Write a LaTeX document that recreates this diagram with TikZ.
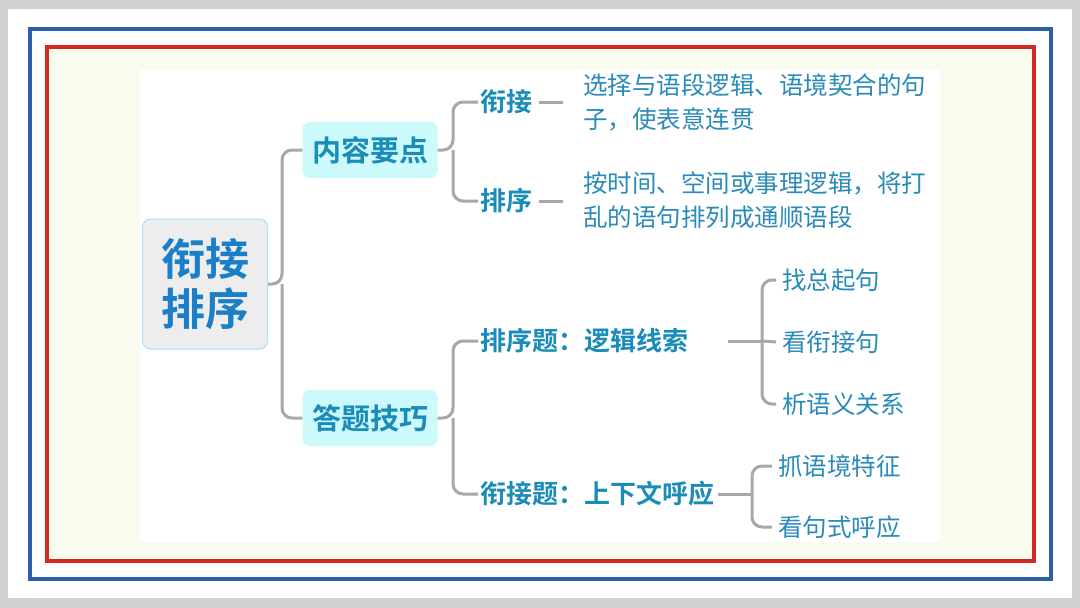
\documentclass[tikz,border=0pt]{standalone}
\usepackage{fontspec}
\setmainfont{Noto Sans CJK SC}
\newfontfamily\cjkb{Noto Sans CJK SC Bold}
\definecolor{rootc}{HTML}{1B7FC8}
\definecolor{l1c}{HTML}{1A8CB8}
\definecolor{txc}{HTML}{2A8AB8}
\definecolor{conn}{HTML}{A8A8A8}
\definecolor{fblue}{HTML}{2B5FA6}
\definecolor{fred}{HTML}{D42A22}
\definecolor{cream}{HTML}{FAFBEF}
\definecolor{l1f}{HTML}{CCF9FB}
\begin{document}
\begin{tikzpicture}[x=1pt,y=-1pt,
  rootbox/.style={draw=cyan!35,line width=1pt,fill=black!7,rounded corners=8pt,minimum width=125pt,minimum height=130pt,align=center,text=rootc,font=\cjkb\fontsize{44}{50}\selectfont},
  l1box/.style={fill=l1f,rounded corners=7pt,minimum width=135pt,minimum height=56pt,text=l1c,font=\cjkb\fontsize{29}{32}\selectfont},
  l2/.style={text=l1c,font=\cjkb\fontsize{26}{30}\selectfont,anchor=west,inner sep=2pt},
  leaf/.style={text=txc,font=\fontsize{24.5}{34}\selectfont,anchor=west,align=left,inner sep=0pt},
  cn/.style={draw=conn,line width=3pt,rounded corners=10pt}]
\fill[black!18] (0,0) rectangle (1080,608);
\fill[white] (8,9) rectangle (1072,598);
\draw[fblue,line width=4pt] (30,29) rectangle (1051,579);
\draw[fred,line width=4pt] (47,47) rectangle (1034,561);
\fill[cream] (49,49) rectangle (1032,559);
\fill[white] (140,70) rectangle (940,542);
\node[rootbox] (root) at (205,284) {衔接\\排序};
\node[l1box] (a) at (370,150) {内容要点};
\node[l1box] (b) at (370,418) {答题技巧};
\draw[cn] (root.east) -- (282,284) |- (a.west);
\draw[cn] (282,284) |- (b.west);
\node[l2] (a1) at (478,102) {衔接};
\node[l2] (a2) at (478,201) {排序};
\draw[cn] (a.east) -- (453,150) |- (a1.west);
\draw[cn] (453,150) |- (a2.west);
\node[leaf] (t1) at (583,102) {选择与语段逻辑、语境契合的句\\子，使表意连贯};
\node[leaf] (t2) at (583,200) {按时间、空间或事理逻辑，将打\\乱的语句排列成通顺语段};
\draw[conn,line width=3pt] ([xshift=5pt]a1.east) -- ([xshift=-20pt]a1.east-|t1.west) coordinate (e1);
\draw[conn,line width=3pt] ([xshift=5pt]a2.east) -- ([xshift=-20pt]a2.east-|t2.west) coordinate (e2);
\node[l2] (b1) at (478,341) {排序题：逻辑线索};
\node[l2] (b2) at (478,494) {衔接题：上下文呼应};
\draw[cn] (b.east) -- (453,418) |- (b1.west);
\draw[cn] (453,418) |- (b2.west);
\node[leaf] (c1) at (782,280) {找总起句};
\node[leaf] (c2) at (782,342) {看衔接句};
\node[leaf] (c3) at (782,404) {析语义关系};
\draw[cn] ([xshift=38pt]b1.east) -- (762,341);
\draw[cn] ([xshift=-6pt]c1.west) -- (762,280) -- (762,404) -- ([xshift=-6pt]c3.west);
\draw[cn] (762,341) -- ([xshift=-6pt]c2.west);
\node[leaf] (d1) at (778,466) {抓语境特征};
\node[leaf] (d2) at (778,527) {看句式呼应};
\draw[cn] ([xshift=2pt]b2.east) -- (752,494);
\draw[cn] ([xshift=-6pt]d1.west) -- (752,466) -- (752,527) -- ([xshift=-6pt]d2.west);
\end{tikzpicture}
\end{document}
